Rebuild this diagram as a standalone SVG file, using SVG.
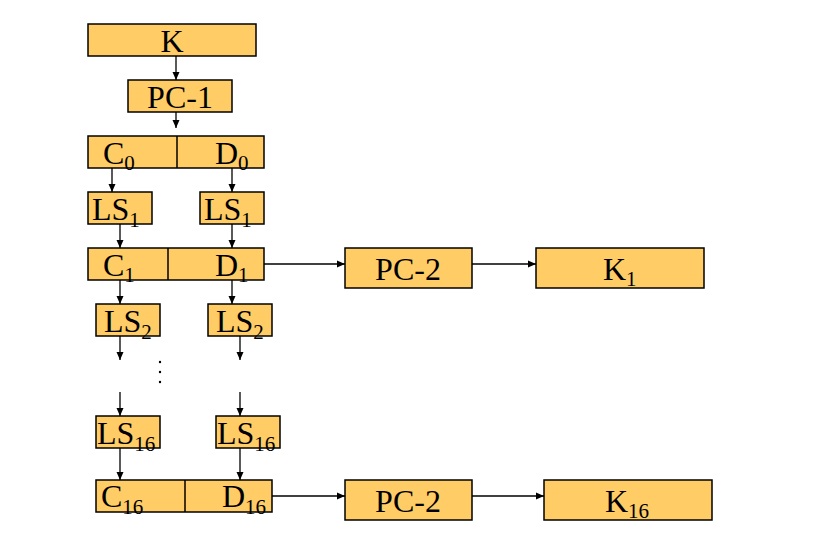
<svg xmlns="http://www.w3.org/2000/svg" width="816" height="544" viewBox="0 0 816 544">
<defs>
<marker id="ah" markerWidth="8" markerHeight="8" refX="8" refY="4" orient="auto" markerUnits="userSpaceOnUse">
<path d="M0,0.5 L8,4 L0,7.5 Z" fill="#000"/>
</marker>
</defs>
<style>
.box{fill:#FFCC66;stroke:#000;stroke-width:1.5}
.t{font-family:"Liberation Serif","Times New Roman",serif;font-size:32px;fill:#000}
.s{font-size:21px}
.c line{stroke:#000;stroke-width:1.3;marker-end:url(#ah)}
</style>
<rect width="816" height="544" fill="#fff"/>
<g class="c" id="connectors">
<line x1="176" y1="56" x2="176" y2="80"/>
<line x1="176" y1="112" x2="176" y2="128"/>
<line x1="112" y1="168" x2="112" y2="192"/>
<line x1="232" y1="168" x2="232" y2="192"/>
<line x1="120" y1="224" x2="120" y2="248"/>
<line x1="232" y1="224" x2="232" y2="248"/>
<line x1="120" y1="280" x2="120" y2="304"/>
<line x1="232" y1="280" x2="232" y2="304"/>
<line x1="120" y1="336" x2="120" y2="360"/>
<line x1="240" y1="336" x2="240" y2="360"/>
<line x1="120" y1="392" x2="120" y2="416"/>
<line x1="240" y1="392" x2="240" y2="416"/>
<line x1="120" y1="448" x2="120" y2="480"/>
<line x1="240" y1="448" x2="240" y2="480"/>
<line x1="264" y1="264" x2="345" y2="264"/>
<line x1="472" y1="264" x2="536" y2="264"/>
<line x1="272" y1="496" x2="345" y2="496"/>
<line x1="472" y1="496" x2="544" y2="496"/>
</g>
<g id="dots" fill="#000">
<circle cx="160" cy="362" r="1.2"/>
<circle cx="160" cy="372" r="1.2"/>
<circle cx="160" cy="382" r="1.2"/>
</g>
<g id="K"><rect class="box" x="88" y="24" width="168" height="32"/><text class="t" x="172" y="52" text-anchor="middle">K</text></g>
<g id="PC1"><rect class="box" x="128" y="80" width="104" height="32"/><text class="t" x="180" y="108" text-anchor="middle">PC-1</text></g>
<g id="C0D0"><rect class="box" x="88" y="136" width="176" height="32"/><line x1="177" y1="136" x2="177" y2="168" stroke="#000" stroke-width="1.5"/>
<text class="t" x="103" y="164">C<tspan class="s" dy="6">0</tspan></text>
<text class="t" x="215" y="164">D<tspan class="s" dy="6">0</tspan></text></g>
<g id="LS1L"><rect class="box" x="88" y="192" width="64" height="32"/><text class="t" x="92" y="220">LS<tspan class="s" dy="7">1</tspan></text></g>
<g id="LS1R"><rect class="box" x="200" y="192" width="64" height="32"/><text class="t" x="204" y="220">LS<tspan class="s" dy="7">1</tspan></text></g>
<g id="C1D1"><rect class="box" x="88" y="248" width="176" height="32"/><line x1="168" y1="248" x2="168" y2="280" stroke="#000" stroke-width="1.5"/>
<text class="t" x="103" y="276">C<tspan class="s" dy="6">1</tspan></text>
<text class="t" x="215" y="276">D<tspan class="s" dy="6">1</tspan></text></g>
<g id="PC2a"><rect class="box" x="345" y="248" width="127" height="40"/><text class="t" x="408" y="280" text-anchor="middle">PC-2</text></g>
<g id="K1"><rect class="box" x="536" y="248" width="168" height="40"/><text class="t" x="603" y="280">K<tspan class="s" dy="6">1</tspan></text></g>
<g id="LS2L"><rect class="box" x="96" y="304" width="64" height="32"/><text class="t" x="104" y="332">LS<tspan class="s" dy="7">2</tspan></text></g>
<g id="LS2R"><rect class="box" x="208" y="304" width="64" height="32"/><text class="t" x="216" y="332">LS<tspan class="s" dy="7">2</tspan></text></g>
<g id="LS16L"><rect class="box" x="96" y="416" width="64" height="32"/><text class="t" x="97" y="444">LS<tspan class="s" dy="7">16</tspan></text></g>
<g id="LS16R"><rect class="box" x="216" y="416" width="64" height="32"/><text class="t" x="217" y="444">LS<tspan class="s" dy="7">16</tspan></text></g>
<g id="C16D16"><rect class="box" x="96" y="480" width="176" height="32"/><line x1="185" y1="480" x2="185" y2="512" stroke="#000" stroke-width="1.5"/>
<text class="t" x="101" y="507">C<tspan class="s" dy="7">16</tspan></text>
<text class="t" x="222" y="507">D<tspan class="s" dy="7">16</tspan></text></g>
<g id="PC2b"><rect class="box" x="345" y="480" width="127" height="40"/><text class="t" x="408" y="512" text-anchor="middle">PC-2</text></g>
<g id="K16"><rect class="box" x="544" y="480" width="168" height="40"/><text class="t" x="605" y="512">K<tspan class="s" dy="6">16</tspan></text></g>
</svg>
